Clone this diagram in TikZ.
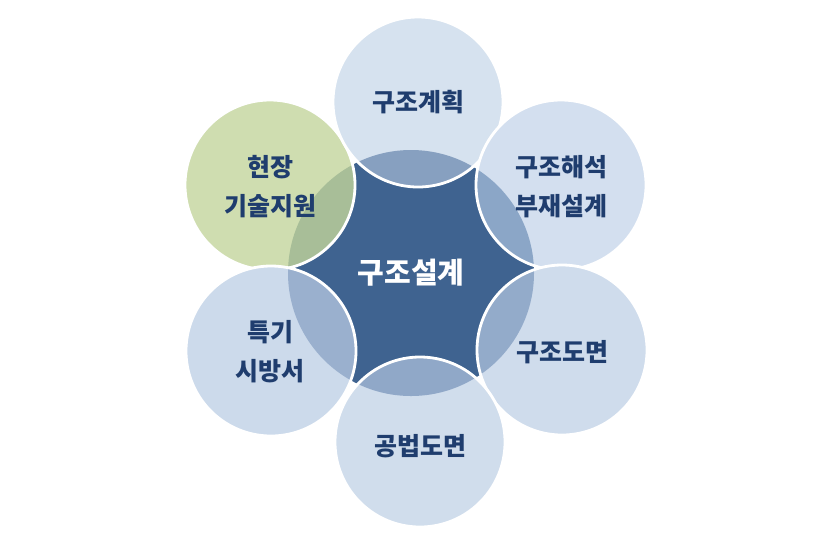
\documentclass[tikz,border=0pt]{standalone}
\usepackage{fontspec}
\newfontfamily\kr{Noto Sans CJK KR}
\definecolor{cdark}{HTML}{3F6390}
\definecolor{ctxt}{HTML}{1F3D6E}
\definecolor{lT}{HTML}{D6E2EF}\definecolor{oT}{HTML}{87A0C0}
\definecolor{lUR}{HTML}{D3DFEF}\definecolor{oUR}{HTML}{8BA6C7}
\definecolor{lLR}{HTML}{CFDCEC}\definecolor{oLR}{HTML}{93ABCA}
\definecolor{lB}{HTML}{D0DDEC}\definecolor{oB}{HTML}{90A8C8}
\definecolor{lLL}{HTML}{CCDAEB}\definecolor{oLL}{HTML}{9AB0CE}
\definecolor{lUL}{HTML}{CFDDB0}\definecolor{oUL}{HTML}{A8BE98}
\tikzset{
  lbl/.style={font=\kr\bfseries\fontsize{25}{39}\selectfont, text=ctxt, align=center, inner sep=0pt},
  clbl/.style={font=\kr\bfseries\fontsize{29}{30}\selectfont, text=white, align=center, inner sep=0pt},
  rim/.style={draw=white, line width=2.8pt},
}
\newcommand{\petal}[5]{% name, x, y, light, overlap
  \fill[#4] (#2,#3) circle (85);
  \begin{scope}
    \clip (#2,#3) circle (85);
    \fill[#5] (411,273) circle (123);
  \end{scope}
  \draw[rim] (#2,#3) circle (85);
}
\begin{document}
\begin{tikzpicture}[x=1pt,y=-1pt]
\useasboundingbox (0,0) rectangle (824,542);
\fill[cdark] (411,273) circle (123);
\petal{UL}{270}{185}{lUL}{oUL}
\petal{T}{418}{102}{lT}{oT}
\petal{UR}{561}{185}{lUR}{oUR}
\petal{LR}{562}{350}{lLR}{oLR}
\petal{B}{420}{442}{lB}{oB}
\petal{LL}{271}{351}{lLL}{oLL}
\node[clbl] (c) at (411,273) {구조설계};
\node[lbl] (t) at (418,102) {구조계획};
\node[lbl] (ur) at (561,187) {구조해석\\부재설계};
\node[lbl] (lr) at (562,352) {구조도면};
\node[lbl] (b) at (420,446) {공법도면};
\node[lbl] (ll) at (270,352) {특기\\시방서};
\node[lbl] (ul) at (270,187) {현장\\기술지원};
\end{tikzpicture}
\end{document}
